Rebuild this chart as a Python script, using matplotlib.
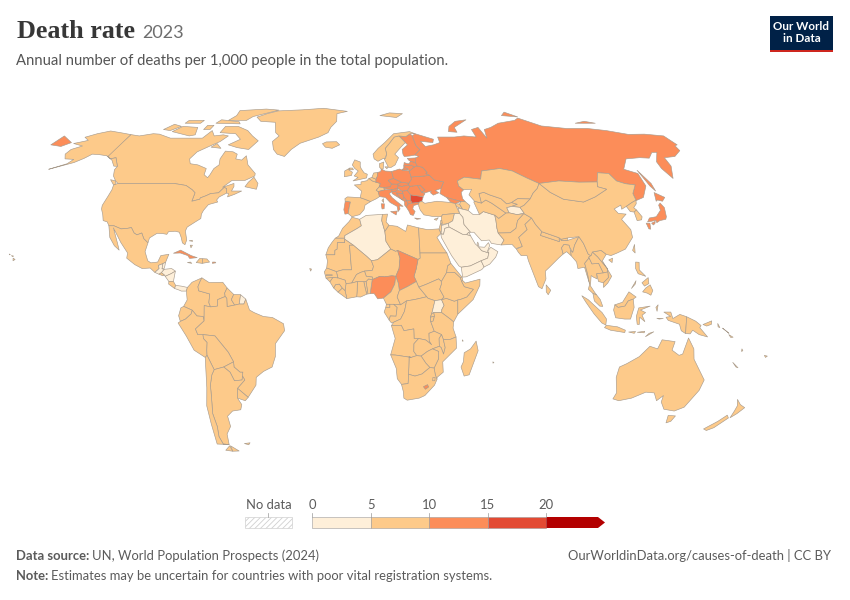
import numpy as np
import matplotlib
matplotlib.use("Agg")
import matplotlib.pyplot as plt
from matplotlib.collections import PolyCollection
from matplotlib.colors import ListedColormap, BoundaryNorm
from matplotlib.patches import Rectangle, Polygon

plt.rcParams['font.family'] = ['Lato', 'DejaVu Sans']
plt.rcParams['hatch.linewidth'] = 0.6

title = "Death rate"
title_year = "2023"
subtitle = "Annual number of deaths per 1,000 people in the total population."
source_text = "UN, World Population Prospects (2024)"
url_text = "OurWorldinData.org/causes-of-death | CC BY"
note_text = "Estimates may be uncertain for countries with poor vital registration systems."

legend_bounds = [0, 5, 10, 15, 20, 25]
legend_colors = ['#feefd9', '#fdca8a', '#fc8d59', '#e34a33', '#b30000']

# deaths per 1,000, estimated from the colour of each country
death_rate = {
    "Canada": 7.8, "USA": 9.2, "Alaska": 9.2, "Greenland": 8.5, "Iceland": 6.5, "Mexico": 6.3,
    "Guatemala": 4.8, "Belize": 4.9, "Honduras": 4.5, "El Salvador": 6.8, "Nicaragua": 4.7,
    "Costa Rica": 5.6, "Panama": 4.9, "Cuba": 11.5, "Haiti": 8.5, "Dominican Rep": 6.6,
    "Jamaica": 8.0, "Puerto Rico": 10.5, "Bahamas": 7.0, "Colombia": 6.2, "Venezuela": 7.0,
    "Guyana": 8.0, "Suriname": 7.5, "French Guiana": 3.5, "Ecuador": 5.4, "Peru": 5.7,
    "Brazil": 7.0, "Bolivia": 6.8, "Paraguay": 6.5, "Uruguay": 9.8, "Argentina": 7.2,
    "Chile": 6.9, "Falklands": 7.0,
    "Portugal": 11.1, "Spain": 9.4, "France": 9.3, "Belgium": 9.5, "Netherlands": 9.6,
    "Germany": 12.0, "Denmark": 9.6, "Switzerland": 8.0, "Austria": 10.2, "Italy": 11.0,
    "Czechia": 10.8, "Slovakia": 10.5, "Poland": 11.0, "Hungary": 13.0, "Slovenia": 10.5,
    "Croatia": 13.6, "Bosnia": 12.5, "Serbia": 14.5, "Montenegro": 11.0, "Albania": 10.5,
    "N Macedonia": 10.5, "Greece": 12.0, "Bulgaria": 15.5, "Romania": 13.0, "Moldova": 12.5,
    "Ukraine": 14.8, "Belarus": 13.0, "Lithuania": 13.5, "Latvia": 14.5, "Estonia": 12.5,
    "Finland": 10.5, "Sweden": 8.9, "Norway": 8.0, "UK": 9.3, "N Ireland": 9.3, "Ireland": 6.7,
    "Russia": 12.8, "Georgia": 12.0, "Armenia": 9.0, "Azerbaijan": 6.0, "Turkey": 6.0, "Cyprus": 7.0,
    "Syria": 5.3, "Lebanon": 5.5, "Israel": 5.2, "Jordan": 3.9, "Iraq": 4.7, "Kuwait": 2.5,
    "Saudi Arabia": 3.5, "Yemen": 4.9, "Oman": 2.6, "UAE": 1.5, "Qatar": 1.2, "Iran": 4.8,
    "Turkmenistan": 7.0, "Uzbekistan": 5.2, "Kazakhstan": 7.0, "Kyrgyzstan": 5.0, "Tajikistan": 4.4,
    "Afghanistan": 6.8, "Pakistan": 6.5, "India": 6.7, "Nepal": 6.2, "Bhutan": 6.5, "Bangladesh": 5.7,
    "Sri Lanka": 7.5, "Myanmar": 8.0, "Thailand": 8.7, "Laos": 6.2, "Vietnam": 6.0, "Cambodia": 5.8,
    "Malaysia": 5.5, "Indonesia": 7.5, "PNG": 6.5, "Philippines": 6.0, "Taiwan": 8.8, "China": 7.8,
    "Mongolia": 6.0, "North Korea": 8.5, "South Korea": 7.0, "Japan": 12.7,
    "Morocco": 6.5, "W Sahara": 5.5, "Algeria": 4.5, "Tunisia": 6.5, "Libya": 5.5, "Egypt": 5.5,
    "Sudan": 7.5, "South Sudan": 9.5, "Mauritania": 6.0, "Mali": 8.5, "Niger": 8.5, "Chad": 13.5,
    "Nigeria": 12.5, "Benin": 9.0, "Togo": 8.0, "Ghana": 7.0, "Burkina Faso": 8.5,
    "Ivory Coast": 8.0, "Liberia": 8.5, "Sierra Leone": 8.5, "Guinea": 9.0, "Guinea-Bissau": 8.5,
    "Senegal": 5.5, "Gambia": 6.5, "Cameroon": 8.0, "CAR": 9.5, "Eq Guinea": 8.5, "Gabon": 6.5,
    "Congo": 6.5, "DR Congo": 8.8, "Uganda": 4.8, "Rwanda": 5.5, "Burundi": 6.5, "Kenya": 6.8,
    "Tanzania": 5.5, "Ethiopia": 6.5, "Eritrea": 6.0, "Djibouti": 7.0, "Somalia": 9.5, "Angola": 6.5,
    "Zambia": 6.0, "Malawi": 5.5, "Mozambique": 7.5, "Zimbabwe": 7.5, "Botswana": 6.0, "Namibia": 7.0,
    "South Africa": 9.0, "Lesotho": 11.5, "Eswatini": 9.0, "Madagascar": 6.0, "Comoros": 6.5,
    "Cape Verde": 6.0, "Mauritius": 9.0, "Fiji": 8.5, "Vanuatu": 6.0, "New Caledonia": 7.0,
    "New Zealand": 7.0, "Australia": 6.5, "Solomon": 6.0,
}

# country outlines as rough (lon, lat) rings
outlines = {
    "Canada": [
        [(-141,69.6),(-135,69),(-128,70),(-124,69.8),(-115,68),(-108,68),(-100,68),(-96,68),(-94,71.5),(-90,69),(-85,69.5),(-81.5,69),(-84,66.5),(-87,65),(-93,62),(-94.5,59),(-92.5,57),(-88,56.5),(-82.5,55),(-82,52.5),(-79.5,51.3),(-79,52.5),(-78.5,55),(-76.8,56.5),(-78,59),(-77.5,62.3),(-73,62),(-70,61),(-69.5,59),(-66,58.5),(-64.5,60.3),(-61.5,56.5),(-56,53),(-55.8,52),(-60,50.2),(-66.5,50.2),(-70,47.5),(-65,49),(-64.5,47.8),(-65,46),(-61,46),(-60,46),(-63,44.7),(-66,43.7),(-66,45),(-67,45.2),(-67.8,47),(-69.2,47.4),(-71,45.3),(-74.7,45),(-76.5,44.2),(-79,43.3),(-79,42.8),(-82.5,42),(-82.5,45.3),(-84.5,46.5),(-88.5,48.2),(-95,49),(-123,49),(-125,50),(-128,52),(-130,54.5),(-130,55.9),(-135,59.5),(-137.5,59),(-141,60.3)],
        [(-80,73.5),(-72,71.5),(-67,69),(-62,66.8),(-65,63),(-72,63.8),(-78,65),(-73,67.5),(-78,70),(-88,70.5),(-88,73.5)],
        [(-90,76.5),(-78,76.5),(-76,78.5),(-62,82.3),(-72,83),(-90,82),(-88,79)],
        [(-118,71),(-105,69),(-102,69.5),(-105,73),(-115,73.5)],
        [(-125,72),(-120,71.5),(-116,73.5),(-122,74.5)],
        [(-96,75),(-80,74.7),(-82,75.8),(-95,76.8)],
        [(-116,75),(-106,75),(-106,76.5),(-116,76.5)],
        [(-87,64),(-81,63.5),(-85,65.6)],
        [(-59,47.7),(-53,46.7),(-53,49),(-56,51.5),(-58,49.5)],
        [(-128,50.5),(-125,48.6),(-123.5,48.4),(-125,50)],
        [(-100,72),(-96,72),(-96,74),(-100,74)],
    ],
    "USA": [[(-123,49),(-95,49),(-88.5,48.2),(-84.5,46.5),(-82.5,45.3),(-82.5,42),(-79,42.8),(-79,43.3),(-76.5,44.2),(-74.7,45),(-71,45.3),(-69.2,47.4),(-67.8,47),(-67,45.2),(-70,43.7),(-70.8,42.5),(-70,41.7),(-74,40.7),(-75.5,38.5),(-76,37),(-75.7,35.3),(-78,33.9),(-81,32),(-81.4,30.5),(-80,27),(-80.4,25.2),(-81.7,25.9),(-82.7,28),(-84,30),(-86,30.4),(-89,30.2),(-89.5,29.2),(-91.5,29.5),(-94,29.6),(-97,27.8),(-97.2,25.9),(-99.5,27.5),(-101,29.7),(-103,29),(-104.5,29.7),(-106.5,31.8),(-108.2,31.5),(-111,31.3),(-114.8,32.5),(-117.1,32.5),(-118.5,34),(-120.6,34.5),(-122,36.8),(-123.8,39),(-124.3,40.4),(-124,44),(-124,46.5),(-124.7,48.4)],
        [(-156,20),(-155,19.5),(-155.8,19)],[(-157,21),(-156,20.8),(-156.5,20.6)],[(-158.2,21.6),(-157.7,21.4),(-158,21.3)]],
    "Alaska": [[(-141,69.6),(-148,70.4),(-156.5,71.3),(-162,70),(-166.5,68.4),(-162,67),(-164,66.5),(-168,65.6),(-161,64.5),(-165,63),(-165,61),(-162,59),(-157,58.8),(-158,57),(-164.5,54.7),(-155,57.5),(-152,59.2),(-150,61),(-146,60.8),(-141,60.3),(-137.5,59),(-135,59.5),(-130,55.9),(-132,56),(-136,58.5),(-140,60)]],
    "Greenland": [[(-73,78.2),(-68,76),(-58,75.5),(-54,70.5),(-51,69),(-53.5,66.5),(-51,63),(-48,61),(-43.5,60),(-41,63),(-37,65.7),(-27,68.5),(-22,70.5),(-21,73),(-18,76),(-19,80),(-12,81.5),(-30,83.5),(-45,82.5),(-62,81.8),(-68,80)]],
    "Iceland": [[(-24,65.5),(-22,64),(-18,63.5),(-14,65),(-16,66.4),(-22,66.3)]],
    "Mexico": [[(-117.1,32.5),(-114.8,32.5),(-111,31.3),(-108.2,31.5),(-106.5,31.8),(-104.5,29.7),(-103,29),(-101,29.7),(-99.5,27.5),(-97.2,25.9),(-97.8,22.5),(-96,19),(-94.5,18.2),(-91.5,18.5),(-90.5,21),(-87,21.5),(-88,18.4),(-89.1,17.9),(-91,17.2),(-90.5,16),(-92.2,14.5),(-94.5,16.2),(-98,16),(-101.5,17.5),(-105.5,20),(-105.5,22),(-109.4,26),(-112.5,29.5),(-114.7,31.7),(-111,26),(-109.5,23.1),(-112,24.8),(-115,28)]],
    "Guatemala": [[(-92.2,14.5),(-90.5,16),(-91,17.2),(-89.1,17.9),(-89.2,15.9),(-88.2,15.7),(-89.3,14.4),(-90.3,13.8)]],
    "Belize": [[(-89.1,17.9),(-88,18.4),(-88.2,16.1),(-89.2,15.9)]],
    "Honduras": [[(-89.3,14.4),(-88.2,15.7),(-85,16),(-83.2,15),(-85,14),(-87.5,13),(-87.8,13.4)]],
    "El Salvador": [[(-90.3,13.8),(-89.3,14.4),(-87.8,13.4),(-88.5,13.2)]],
    "Nicaragua": [[(-87.5,13),(-85,14),(-83.2,15),(-83.7,11),(-85.7,11)]],
    "Costa Rica": [[(-85.7,11),(-83.7,11),(-82.6,9.5),(-83,8.3),(-85.7,10)]],
    "Panama": [[(-83,8.3),(-82.6,9.5),(-80,9.2),(-77.4,8.7),(-77.8,7.3),(-80,7.3),(-81,7.7)]],
    "Cuba": [[(-85,21.9),(-82,23.1),(-77,21),(-74.2,20.2),(-77.5,19.9),(-78.5,21),(-82,22)]],
    "Haiti": [[(-74.4,18.3),(-71.7,18),(-71.7,19.8),(-73,19.9)]],
    "Dominican Rep": [[(-71.7,18),(-68.5,18.5),(-69.8,19.7),(-71.7,19.8)]],
    "Jamaica": [[(-78.3,18.3),(-76.3,18),(-77,18.5)]],
    "Puerto Rico": [[(-67.2,18),(-65.7,18.2),(-66,18.5),(-67.2,18.5)]],
    "Bahamas": [[(-78,25),(-77.5,24),(-77,25)],[(-78.8,26.7),(-77.2,26.5),(-77.5,26.9)]],
    "Colombia": [[(-77.4,8.7),(-75.5,10.7),(-71.3,12.4),(-72,11),(-72.8,9),(-72.4,7.4),(-67.5,6.2),(-67.8,2.8),(-67,1.2),(-69.8,1.7),(-69.9,-4.2),(-70.3,-2.5),(-73,-2.3),(-75,-0.1),(-78.8,1.4),(-77.3,3.9),(-77.8,7.3)]],
    "Venezuela": [[(-71.3,12.4),(-68,10.6),(-62,10.7),(-60,8.5),(-61,6.5),(-60.7,5.2),(-64,4),(-64,1.5),(-67,1.2),(-67.8,2.8),(-67.5,6.2),(-72.4,7.4),(-72.8,9),(-72,11)]],
    "Guyana": [[(-60,8.5),(-57,6),(-58,4),(-56.5,1.9),(-59.8,1.3),(-60,4.5),(-60.7,5.2),(-61,6.5)]],
    "Suriname": [[(-57,6),(-54,5.9),(-54.5,2.3),(-56.5,1.9),(-58,4)]],
    "French Guiana": [[(-54,5.9),(-51.7,4.2),(-52.5,2.3),(-54.5,2.3)]],
    "Ecuador": [[(-78.8,1.4),(-75,-0.1),(-75.5,-1.5),(-78,-3.5),(-80.3,-4.4),(-81,-2.2),(-80,0.8)]],
    "Peru": [[(-75,-0.1),(-73,-2.3),(-70.3,-2.5),(-69.9,-4.2),(-73.8,-7.3),(-72.9,-9.5),(-70.6,-9.5),(-70.5,-11),(-69,-12.5),(-69.4,-15.5),(-69.5,-17.5),(-70.4,-18.3),(-75,-15.5),(-78,-10),(-81.3,-5),(-80.3,-4.4),(-78,-3.5),(-75.5,-1.5)]],
    "Brazil": [[(-51.7,4.2),(-50,0),(-48,-1),(-44,-2.5),(-40,-2.9),(-35.2,-5.3),(-34.8,-8),(-39,-13),(-39.3,-18),(-41,-22),(-45,-23.7),(-48.5,-26),(-49,-29),(-53.4,-33.7),(-57.6,-30.2),(-53.8,-27),(-54.6,-25.5),(-54.3,-24),(-55.5,-24),(-58,-22),(-58,-20),(-60,-16.3),(-65.4,-10),(-70.6,-9.5),(-72.9,-9.5),(-73.8,-7.3),(-69.9,-4.2),(-69.8,1.7),(-67,1.2),(-64,1.5),(-64,4),(-60.7,5.2),(-60,4.5),(-59.8,1.3),(-56.5,1.9),(-54.5,2.3),(-52.5,2.3)]],
    "Bolivia": [[(-70.6,-9.5),(-65.4,-10),(-60,-16.3),(-58,-20),(-62.6,-22),(-67,-23),(-69.5,-17.5),(-69.4,-15.5),(-69,-12.5),(-70.5,-11)]],
    "Paraguay": [[(-58,-20),(-58,-22),(-55.5,-24),(-54.3,-24),(-54.6,-25.5),(-55,-27),(-58.5,-27.3),(-60,-24),(-62.6,-22)]],
    "Uruguay": [[(-57.6,-30.2),(-53.4,-33.7),(-55,-35),(-58.4,-34)]],
    "Argentina": [[(-67,-23),(-62.6,-22),(-60,-24),(-58.5,-27.3),(-55,-27),(-54.6,-25.5),(-53.8,-27),(-57.6,-30.2),(-58.4,-34),(-57,-36.5),(-58,-38.5),(-62,-39),(-65,-41),(-65,-45),(-68,-48),(-69,-52.2),(-71.9,-52),(-72.5,-49),(-71.5,-45),(-71.7,-40),(-70.2,-33),(-69.7,-29),(-68.3,-25)],
        [(-68.6,-52.7),(-65.2,-54.8),(-68.6,-54.9)]],
    "Chile": [[(-69.5,-17.5),(-67,-23),(-68.3,-25),(-69.7,-29),(-70.2,-33),(-71.7,-40),(-71.5,-45),(-72.5,-49),(-71.9,-52),(-69,-52.2),(-75,-52),(-74,-44),(-73.5,-37),(-71.5,-30),(-70.4,-18.3)],
        [(-69,-52.7),(-68.6,-54.9),(-72,-54.5)]],
    "Falklands": [[(-61,-51.8),(-58,-51.5),(-59,-52.3)]],
    "Portugal": [[(-9,41.9),(-8.2,42),(-6.5,41.7),(-7,39.7),(-7.4,37.2),(-8.9,37),(-9.5,38.7)]],
    "Spain": [[(-9.2,43),(-9,41.9),(-8.2,42),(-6.5,41.7),(-7,39.7),(-7.4,37.2),(-5.6,36),(-2,36.8),(0,38.7),(0.5,40.5),(3.2,41.9),(0.7,42.7),(-1.8,43.4),(-8,43.7)]],
    "France": [[(-1.8,43.4),(0.7,42.7),(3.2,41.9),(6,43),(7.5,43.8),(7,45.8),(6,46.3),(7.5,47.6),(8.2,49),(6,49.5),(4.2,50),(2.5,51),(1.5,50.1),(-1.5,49.6),(-1.5,48.6),(-4.8,48.4),(-1.2,46)],
        [(8.6,42.3),(9.4,43),(9.4,41.5)]],
    "Belgium": [[(2.5,51),(4.2,50),(6,49.5),(6.1,50.7),(4,51.4)]],
    "Netherlands": [[(4,51.4),(6.1,50.7),(7,52.2),(7,53.4),(5,53.2)]],
    "Germany": [[(7,53.4),(7,52.2),(6.1,50.7),(6,49.5),(8.2,49),(7.5,47.6),(10,47.4),(13,47.6),(13.8,48.8),(12.2,50.2),(15,51),(14.3,53.8),(11,54),(9,54.8),(8.7,53.8)]],
    "Denmark": [[(9,54.8),(10,54.8),(10.3,56.2),(10.6,57.7),(8.2,57),(8.2,55.5)],[(11,55.7),(12.5,55.7),(12,54.9)]],
    "Switzerland": [[(6,46.3),(7,45.8),(10.4,46.5),(9.6,47.3),(7.5,47.6)]],
    "Austria": [[(9.6,47.3),(10.4,46.9),(13.7,46.5),(16.5,47),(17,48.1),(16.9,48.7),(13.8,48.8),(13,47.6),(10,47.4)]],
    "Italy": [[(7,45.8),(7.5,43.8),(10.3,43.5),(12.5,41.5),(15.7,40),(16,38),(17,39),(16.7,40.2),(18.5,40),(16,41.7),(13.5,43.5),(12.3,45),(13.7,45.7),(13.7,46.5),(10.4,46.5)],
        [(12.5,38),(15.6,38.2),(15,36.7)],[(8.2,41),(9.7,41),(9.5,39.1),(8.5,39)]],
    "Czechia": [[(12.2,50.2),(13.8,48.8),(16.9,48.7),(18.8,49.5),(15,51)]],
    "Slovakia": [[(16.9,48.7),(17,48.1),(18.8,47.8),(22.1,48.4),(22.5,49.1),(18.8,49.5)]],
    "Poland": [[(14.3,53.8),(15,51),(18.8,49.5),(22.5,49.1),(24,50.6),(24,51.6),(23.5,54),(19.8,54.4),(18.5,54.8)]],
    "Hungary": [[(16.5,47),(18.8,45.9),(21.3,46.2),(22.9,47.9),(22.1,48.4),(18.8,47.8),(17,48.1)]],
    "Slovenia": [[(13.7,45.7),(15.6,45.8),(16.5,46.5),(16.5,47),(13.7,46.5)]],
    "Croatia": [[(13.7,45.7),(15.6,45.8),(16.5,46.5),(18.8,45.9),(19,44.9),(15.8,45.2),(17.6,43.1),(18.5,42.5),(15.2,44.2),(13.7,45)]],
    "Bosnia": [[(15.8,45.2),(19,44.9),(19.3,43.5),(18.5,42.5),(17.6,43.1)]],
    "Serbia": [[(19,44.9),(18.8,45.9),(21.3,46.2),(22.7,44.5),(22.4,42.3),(20.5,42.3),(19.3,43.5)]],
    "Montenegro": [[(18.5,42.5),(19.3,43.5),(20.5,42.3),(19.4,41.9)]],
    "Albania": [[(19.4,41.9),(20.5,42.3),(21,40.6),(20,39.7),(19.3,40.5)]],
    "N Macedonia": [[(20.5,42.3),(22.4,42.3),(23,41.3),(21,40.9)]],
    "Greece": [[(20,39.7),(21,40.9),(23,41.3),(26.3,41.6),(26,40.9),(23.5,40.3),(23,39),(24,38),(23,36.5),(21.7,36.8),(21,38.3)],[(23.5,35.5),(26.3,35.2),(24.5,35)]],
    "Bulgaria": [[(22.4,42.3),(22.7,44.5),(27,44),(28.6,43.6),(27.7,42),(26.3,41.6),(23,41.3)]],
    "Romania": [[(21.3,46.2),(22.9,47.9),(26.6,48.2),(28.2,45.5),(29.7,45),(28.6,43.8),(27,44),(22.7,44.5)]],
    "Moldova": [[(26.6,48.2),(28,48.3),(30,46.4),(28.2,45.5)]],
    "Ukraine": [[(22.1,48.4),(22.9,47.9),(26.6,48.2),(28,48.3),(30,46.4),(28.2,45.5),(29.7,45.3),(33,46),(32.5,45.3),(33.7,44.4),(36.5,45.3),(35,46.2),(38,47),(40,49.6),(35.5,50.4),(33.5,52.3),(30.8,52),(24,51.6),(24,50.6),(22.5,49.1)]],
    "Belarus": [[(24,51.6),(30.8,52),(33.5,52.3),(31.8,53),(32.7,53.4),(30.8,55.5),(28,56.1),(26.5,55.7),(23.5,54)]],
    "Lithuania": [[(20.9,55.3),(22.7,55),(23.5,54),(26.5,55.7),(25,56.4),(21,56.1)]],
    "Latvia": [[(21,56.1),(25,56.4),(26.5,55.7),(28,56.1),(27.5,57.5),(25,58),(24,57),(23,57),(21.5,57.5)]],
    "Estonia": [[(23.5,59.2),(28,59.4),(27.5,57.5),(25,58),(24.3,58.3)]],
    "Finland": [[(22,60),(25,60.2),(28,60.6),(31.5,62.9),(29.7,64.8),(29,69),(28,70),(25,68.7),(21,69),(24,66),(25,65),(21.5,63),(21.5,61)]],
    "Sweden": [[(11,58.9),(12.9,55.4),(14.3,55.5),(16.5,56.5),(18.8,59.5),(17,61),(21,64),(24,66),(21,69),(18,68.5),(14.5,65.5),(12,63.5),(12.5,61),(11.7,59.2)]],
    "Norway": [[(5,61),(5.5,59),(7.5,58),(10.5,59.2),(11.2,59),(12.5,61),(12,63.5),(14.5,65.5),(18,68.5),(21,69),(25,68.7),(28,70),(31,70),(28,71),(18,70),(12,66),(8,63.5)],
        [(11,79),(22,78),(27,80),(18,80.5)]],
    "UK": [[(-5.5,50),(1.3,51.2),(1.7,52.7),(0,53.3),(-1.5,55),(-2,56),(-2,57.7),(-5,58.6),(-6.2,56.5),(-4.8,55),(-3,54),(-5,52),(-3,51.4)]],
    "N Ireland": [[(-8,54.5),(-5.5,54.5),(-6,55.2),(-7.4,55.2)]],
    "Ireland": [[(-8,54.5),(-7.4,55.2),(-10,54),(-10,51.7),(-6.4,52.2),(-6,53.5)]],
    "Russia": [
        [(31,70),(41,67.5),(40,66),(33,66.6),(35,64.3),(40,65),(44,66),(44,68.5),(54,68.5),(60,69),(67,68.5),(67,72),(72,73),(73,68),(75,72),(80,73),(87,75),(100,76.5),(104,77.7),(113,73.7),(127,72.5),(140,72.5),(150,71.5),(160,69.7),(170,69.8),(180,69),(180,65),(178,64.6),(177,62.5),(170,60),(163.5,59.5),(162,56),(158.5,52.8),(156.7,51),(155.6,55),(156.8,57.8),(163,61.8),(160,61.7),(155,59.3),(150,59.5),(142,59),(135.5,54.7),(141,53),(140,48),(135,43.5),(130.7,42.3),(131,45),(135,48.4),(130.5,48.9),(127,50),(126,53),(120.5,53.3),(117,49.6),(108,49.5),(98,50),(87.5,49),(83,51),(77,54),(71,55),(61,54),(59,50.7),(51,51.5),(47,50),(47,48),(49,46.5),(47.5,45.5),(47.5,43),(48.5,41.8),(46.5,41.9),(40,43.4),(37,45),(38,47),(40,49.6),(35.5,50.4),(33.5,52.3),(31.8,53),(32.7,53.4),(30.8,55.5),(28,56.1),(27.5,57.5),(28,59.4),(30,60),(28,60.6),(31.5,62.9),(29.7,64.8),(29,69)],
        [(-180,69),(-170,66),(-173,64.3),(-180,65)],
        [(142,54.3),(143.5,49),(143,46),(142,48)],
        [(52,71),(57,70.7),(57,73),(68,76.8),(60,76),(54,73.5)],
        [(95,79),(105,78.3),(100,81)],
        [(137,75),(150,75),(145,76)],
        [(19.8,54.4),(22.8,54.4),(22.7,55),(20.9,55.3)],
    ],
    "Georgia": [[(40,43.4),(46.5,41.9),(43.5,41.1),(41.5,41.5)]],
    "Armenia": [[(43.5,41.1),(45.5,40.9),(46.5,38.9),(43.7,40)]],
    "Azerbaijan": [[(46.5,41.9),(48.5,41.8),(50.3,40.3),(49,38.4),(46.5,38.9),(45.5,40.9)]],
    "Turkey": [[(26,40.9),(26.3,41.6),(27.7,42),(29,41.2),(35,42),(41.5,41.5),(43.5,41.1),(43.7,40),(44.8,37.2),(42.3,37.2),(36.7,36.8),(36,36),(32,36.1),(28,36.7),(26.5,38.5),(26,40)]],
    "Cyprus": [[(32.5,35),(34.5,35.6),(33.5,34.6)]],
    "Syria": [[(36,36),(36.7,36.8),(42.3,37.2),(41,34.4),(38.8,33.4),(36,33),(35.8,35)]],
    "Lebanon": [[(35.2,33.1),(36,33.6),(36,34.6),(35.5,34.6)]],
    "Israel": [[(34.3,31.3),(35,29.5),(35.5,31.5),(35.7,33.2),(35.1,33.1)]],
    "Jordan": [[(35,29.5),(36.1,29.2),(37,31.5),(39,32),(38.8,33.4),(36,32.7),(35.6,32.7),(35.5,31.5)]],
    "Iraq": [[(38.8,33.4),(41,34.4),(42.3,37.2),(44.8,37.2),(46,35.8),(46,33),(48.5,30),(47.7,30),(46.5,29.1),(44.7,29.2),(39,32)]],
    "Kuwait": [[(46.5,29.1),(47.7,30),(48.3,28.6)]],
    "Saudi Arabia": [[(36.1,29.2),(34.9,29.3),(35,28),(39,21),(42,17),(43,16.5),(47,17),(52,19),(55,20),(55.7,22),(52.6,22.9),(51.3,24.4),(50,25.5),(48.3,28.6),(46.5,29.1),(44.7,29.2),(39,32),(37,31.5)]],
    "Yemen": [[(43,16.5),(43.4,12.7),(45,12.8),(52,15.6),(53.1,16.6),(52,19),(47,17)]],
    "Oman": [[(53.1,16.6),(55.7,17.7),(58.6,20.4),(59.8,22.5),(56.8,24.2),(55.2,22.7),(55.7,22),(55,20),(52,19)]],
    "UAE": [[(51.3,24.4),(52.6,22.9),(55.7,22),(55.2,22.7),(56.4,24.9),(56,26),(54,24.2)]],
    "Qatar": [[(51,24.7),(51.6,25),(51.2,26.2),(50.8,25.5)]],
    "Iran": [[(44.8,37.2),(44.4,39.4),(46.5,38.9),(49,38.4),(51,36.8),(54,36.9),(56,38),(61,36.6),(61,34.5),(60.8,31.5),(61,29.7),(63.2,27),(61.6,25.1),(57.3,25.7),(56.5,27),(53,26.7),(50,30),(48.5,30),(46,33),(46,35.8)]],
    "Turkmenistan": [[(53,42),(52.5,41.7),(53.8,37.3),(54,36.9),(56,38),(61,36.6),(62.5,35.3),(66.5,37.4),(61,41.2),(58.5,42.5),(56,41.3)]],
    "Uzbekistan": [[(56,45),(56,41.3),(58.5,42.5),(61,41.2),(66.5,37.4),(68,37.5),(67.5,39.5),(70,40),(73,40.8),(70.5,41.5),(68,41),(66,43),(61,44.5),(58.5,45.5)]],
    "Kazakhstan": [[(47,50),(51,51.5),(59,50.7),(61,54),(71,55),(77,54),(83,51),(87.5,49),(85.5,47),(82.5,45.2),(80,42.9),(74,43),(70.5,41.5),(68,41),(66,43),(61,44.5),(58.5,45.5),(56,45),(56,41.3),(53,42),(51,44.5),(53,46.7),(49,46.5),(47,48)]],
    "Kyrgyzstan": [[(70.5,41.5),(74,43),(80,42.9),(76,40.4),(73.8,39.6),(70,40),(73,40.8)]],
    "Tajikistan": [[(67.5,39.5),(70,40),(73.8,39.6),(75,37.4),(71.5,36.8),(68,37.5)]],
    "Afghanistan": [[(61,34.5),(61,36.6),(62.5,35.3),(66.5,37.4),(68,37.5),(71.5,36.8),(74.8,37.2),(71,34.5),(69.5,31.5),(66.5,29.8),(61,29.7),(60.8,31.5)]],
    "Pakistan": [[(61.6,25.1),(63.2,27),(61,29.7),(66.5,29.8),(69.5,31.5),(71,34.5),(74.8,37.2),(77.8,35.5),(74,33),(74.5,31),(70,28),(71,24.5),(68,23.7),(66.5,25.3)]],
    "India": [[(68.2,23.5),(71,24.5),(70,28),(74.5,31),(74,33),(77.8,35.5),(78.9,33),(81,30.2),(80,28.8),(88,26.4),(88.2,27.9),(89,26.8),(92,26.9),(97.3,28.3),(94.5,25),(93.2,22.2),(92,24.5),(92,25),(89.8,25.3),(88.5,24),(88.8,21.6),(86.5,20),(82,16.5),(80,15),(80,12),(78,8.2),(76.5,9),(73,19),(72.6,21),(70,21),(68.9,22.3)]],
    "Nepal": [[(80,28.8),(81,30.2),(88.2,27.9),(88,26.4)]],
    "Bhutan": [[(89,27.3),(92,27.8),(92,26.9),(89,26.8)]],
    "Bangladesh": [[(88.5,24),(89.8,25.3),(92,25),(92.4,23),(92.3,20.9),(90.5,22.5),(88.8,21.6)]],
    "Sri Lanka": [[(79.9,9.7),(81.8,7.6),(80.6,5.9),(79.8,7)]],
    "Myanmar": [[(92.3,20.9),(92.4,23),(93.2,22.2),(94.5,25),(97.3,28.3),(98.7,25.7),(100,21.5),(101.1,21),(97.8,18),(98.5,14),(99,10),(98.5,12),(97.5,16.5),(94.5,16),(94.3,18.5)]],
    "Thailand": [[(100,20.4),(101,17.8),(104,18),(105.5,14.3),(102.5,14),(102.5,12),(100.9,12.7),(100,13.3),(99.3,9.3),(101,6.8),(101.8,5.8),(100.2,6.4),(98.3,8),(99,10),(98.5,14),(97.8,18),(101.1,21)]],
    "Laos": [[(101.1,21),(102,22.4),(104,20.5),(107.5,16),(107.5,14.7),(105.5,14.3),(104,18),(101,17.8),(100,20.4)]],
    "Vietnam": [[(102,22.4),(106,23),(108,21.5),(105.8,19),(109,13),(107,10.4),(105,8.7),(105,10.5),(107.5,12.5),(107.5,14.7),(107.5,16),(104,20.5)]],
    "Cambodia": [[(102.5,14),(105.5,14.3),(107.5,14.7),(107.5,12.5),(105,10.5),(103,11)]],
    "Malaysia": [[(100.2,6.4),(101.8,5.8),(103.3,4),(104.3,1.4),(103,1.5),(100.7,3.5)],
        [(109.6,2),(113,3),(116,7),(119,5),(117.7,4.2),(115.5,3.5),(114,1.5),(111,1)]],
    "Indonesia": [
        [(109.6,2),(111,1),(114,1.5),(115.5,3.5),(117.7,4.2),(118,1),(116.5,-3.5),(114,-3.5),(110,-3),(109,0)],
        [(95.3,5.5),(98,4),(104,-1),(106,-3.5),(105.8,-5.8),(104,-5),(100.5,-1.5),(97,3)],
        [(105.3,-6.8),(106,-5.9),(111,-6.5),(114.5,-7.8),(114.3,-8.7),(108,-7.8)],
        [(119.5,-5.5),(119,-2.5),(120,0.8),(125,1.5),(120.7,0),(123,-1),(121.5,-2),(122.8,-4.5),(120.5,-2.8),(120.4,-5.6)],
        [(123.5,-10.3),(125,-9),(127,-8.4),(125,-9.5)],
        [(119.8,-8.6),(123,-8.2),(122.8,-8.8)],
        [(116,-8.5),(119,-8.3),(118.5,-9)],
        [(127.5,1),(128.5,2),(128,-0.5)],
        [(128,-3.2),(130.8,-3.3),(129,-3.5)],
        [(131,-0.8),(134,-0.8),(135,-3.3),(138,-1.7),(141,-2.6),(141,-9.1),(139,-8),(138,-5.5),(133,-4),(132,-2.8),(134,-2.5)],
    ],
    "PNG": [[(141,-2.6),(145,-4.3),(147.5,-6),(147,-6.8),(150.8,-10.4),(147,-9.5),(144,-7.8),(143,-9.2),(141,-9.1)],
        [(148.3,-5.6),(152,-4.2),(152,-5.5),(150,-6.2)],[(154.7,-5.2),(155.8,-6.8),(155,-6.5)]],
    "Solomon": [[(157,-7),(160,-9),(159,-8.3)],[(160,-9.5),(162,-10.5),(161,-10.6)]],
    "Philippines": [[(120.5,18.5),(122,18.4),(121.5,15.5),(124,13),(120.8,14),(120,16)],
        [(122,7),(123.5,8.5),(125.5,9.7),(126.5,7.5),(125.5,5.7),(124,6.5)],
        [(122,10.5),(125,12.5),(125,10.2),(123,9.2)],[(117.2,8.3),(119.5,11.3),(119,10)]],
    "Taiwan": [[(120.1,23),(121.5,25.3),(121,22)]],
    "China": [[(73.8,39.6),(76,40.4),(80,42.9),(82.5,45.2),(85.5,47),(87.5,49),(91,45.5),(96,42.8),(105,41.7),(111.8,43.7),(119.5,46.7),(115.7,47.7),(117,49.6),(120.5,53.3),(126,53),(127,50),(130.5,48.9),(135,48.4),(131,45),(130.6,42.4),(128,41.5),(124.3,40),(121.5,38.9),(122,40.5),(118,39),(119,37.3),(122.5,37),(119.3,35),(121.8,31),(121.5,28),(117,23.5),(113,22),(110,21),(108,21.5),(106,23),(102,22.4),(101.1,21),(100,21.5),(98.7,25.7),(97.3,28.3),(92,27.8),(89,27.3),(88.2,27.9),(81,30.2),(78.9,33),(77.8,35.5),(74.8,37.2),(75,37.4)],
        [(108.7,19.3),(110.5,20),(110,18.3)]],
    "Mongolia": [[(87.5,49),(91,45.5),(96,42.8),(105,41.7),(111.8,43.7),(119.5,46.7),(115.7,47.7),(117,49.6),(108,49.5),(98,50)]],
    "North Korea": [[(124.3,40),(128,41.5),(130.6,42.4),(129.7,41),(127.5,39.5),(128.3,38.6),(126.7,37.8),(125,38)]],
    "South Korea": [[(126.7,37.8),(128.3,38.6),(129.4,36),(128.5,34.8),(126.3,34.5)]],
    "Japan": [[(130.9,34),(132.5,35.5),(136,36),(139.5,38.5),(140,40.5),(141.3,41.3),(142,39.5),(140.7,36),(139.8,35),(136.8,34.5),(135,33.7),(135,34.6),(132.5,34.2)],
        [(140,42),(141.7,45.4),(145.3,43.5),(143,42),(141,42.5)],
        [(130,33.5),(131.7,33.5),(131,31.2),(130.2,31.3)],[(132.5,33.5),(134.5,34.2),(134,33.4),(133,32.8)]],
    "Morocco": [[(-5.6,35.8),(-2,35),(-1.2,32.5),(-3,31.5),(-8.7,28.7),(-8.7,27.7),(-13,27.7),(-11.5,28.5),(-9.8,31.5),(-6.8,34.2)]],
    "W Sahara": [[(-13,27.7),(-8.7,27.7),(-8.7,26),(-12,26),(-12,23.5),(-13,23),(-13,21.3),(-17,21.3),(-16,24),(-14.5,26)]],
    "Algeria": [[(-2,35),(1,36.5),(8.6,36.9),(8.2,34.5),(9.5,30.3),(9.9,26.5),(12,23.5),(6,19.4),(3.3,19),(1.2,20.7),(-4.8,25),(-8.7,27.3),(-8.7,28.7),(-3,31.5),(-1.2,32.5)]],
    "Tunisia": [[(8.6,36.9),(11,37),(10.2,34),(11.5,32.7),(9.5,30.3),(8.2,34.5)]],
    "Libya": [[(9.5,30.3),(11.5,32.7),(15.2,32.3),(19,30.3),(20,32.8),(25,31.7),(25,20),(24,19.5),(15,23),(14.2,22.6),(12,23.5),(9.9,26.5)]],
    "Egypt": [[(25,31.7),(29,31),(34.2,31.3),(34.9,29.5),(33,28),(35.5,24),(37,22),(25,22)]],
    "Sudan": [[(25,22),(37,22),(38.5,18),(37,17),(36.4,14.4),(34,11),(32.8,12),(27,9.8),(24,8.8),(23,11),(22,13),(23,15.7),(24,19.5),(25,20)]],
    "South Sudan": [[(24,8.8),(27,9.8),(32.8,12),(34,11),(34,10),(33.2,8),(35,5),(33.9,4),(31,3.6),(28,4.5),(27.4,5.1)]],
    "Mauritania": [[(-17,21.3),(-13,21.3),(-13,23),(-12,23.5),(-12,26),(-8.7,26),(-8.7,27.3),(-4.8,25),(-6.5,25),(-5.5,15.5),(-9.4,15.5),(-12.2,14.8),(-16.5,16.2),(-16.2,19)]],
    "Mali": [[(-4.8,25),(1.2,20.7),(3.3,19),(4.2,16.8),(3.7,15.3),(0.2,15),(-1.5,14.5),(-3.3,13.7),(-5.4,10.4),(-7.9,10.2),(-8.3,11.5),(-11.5,12.4),(-12.2,14.8),(-9.4,15.5),(-5.5,15.5),(-6.5,25)]],
    "Niger": [[(4.2,16.8),(3.3,19),(6,19.4),(12,23.5),(14.2,22.6),(15,23),(16,20),(15.5,16),(14,13),(12.3,13.2),(9,12.8),(7,13),(3.6,11.7),(3.7,12.7),(1,13),(0.2,15),(3.7,15.3)]],
    "Chad": [[(15,23),(24,19.5),(23,15.7),(22,13),(23,11),(19,9),(15.5,7.5),(15,10.5),(14,13),(15.5,16),(16,20)]],
    "Nigeria": [[(2.7,6.3),(3.6,11.7),(7,13),(9,12.8),(12.3,13.2),(14,13),(13.5,10),(11.8,7),(8.5,4.6),(6,4.3),(4.5,6.3)]],
    "Benin": [[(1.7,6.2),(0.9,11),(2,12),(3.6,11.7),(2.7,6.3)]],
    "Togo": [[(1.2,6.1),(1.7,6.2),(0.9,11),(-0.1,11),(0.5,8.5)]],
    "Ghana": [[(-3.2,5.1),(-1.5,5),(1.2,6.1),(0.5,8.5),(-0.1,11),(-2.9,11),(-3,7.5)]],
    "Burkina Faso": [[(-5.4,10.4),(-3.3,13.7),(-1.5,14.5),(0.2,15),(1,13),(3.7,12.7),(3.6,11.7),(2,12),(0.9,11),(-0.1,11),(-2.9,11)]],
    "Ivory Coast": [[(-7.5,4.4),(-3.2,5.1),(-3,7.5),(-2.9,11),(-5.4,10.4),(-7.9,10.2),(-8.3,7.5)]],
    "Liberia": [[(-11.4,6.9),(-7.5,4.4),(-8.3,7.5),(-9.5,8.5)]],
    "Sierra Leone": [[(-13.3,8.5),(-11.4,6.9),(-9.5,8.5),(-10.8,10),(-12.5,9.8)]],
    "Guinea": [[(-15,10.9),(-13.3,8.5),(-12.5,9.8),(-10.8,10),(-9.5,8.5),(-8.3,7.5),(-7.9,10.2),(-8.3,11.5),(-11.5,12.4),(-13.7,12.6)]],
    "Guinea-Bissau": [[(-16.7,12.3),(-15,10.9),(-13.7,12.6)]],
    "Senegal": [[(-17.5,14.7),(-16.5,16.2),(-12.2,14.8),(-11.5,12.4),(-13.7,12.6),(-16.7,12.3)]],
    "Gambia": [[(-16.8,13.3),(-14,13.3),(-14,13.6),(-16.6,13.6)]],
    "Cameroon": [[(8.5,4.6),(11.8,7),(13.5,10),(14,13),(15,10.5),(15.5,7.5),(14.5,5),(16,2),(13,2.2),(9.8,2.2)]],
    "CAR": [[(15.5,7.5),(19,9),(23,11),(24,8.8),(27.4,5.1),(22.5,4.1),(18.6,3.5),(16,2),(14.5,5)]],
    "Eq Guinea": [[(9.8,2.2),(11.3,2.2),(11.3,1),(9.5,1)]],
    "Gabon": [[(9.5,1),(11.3,1),(11.3,2.2),(13,2.2),(14.5,1),(14,-2.4),(11.5,-2.3),(11,-3.9),(8.8,-0.8)]],
    "Congo": [[(11,-3.9),(11.5,-2.3),(14,-2.4),(14.5,1),(13,2.2),(16,2),(18.6,3.5),(17.7,-0.5),(16,-3.5),(13,-4.7),(12,-5)]],
    "DR Congo": [[(12,-6),(13,-4.7),(16,-3.5),(17.7,-0.5),(18.6,3.5),(22.5,4.1),(27.4,5.1),(28,4.5),(31,3.6),(30,0),(29.6,-1.4),(29,-2.8),(29.2,-4.5),(30.8,-8.2),(28.5,-9),(28.7,-12),(29.8,-13.4),(27.2,-11.6),(24,-11),(22,-11),(21.8,-7.3),(17.5,-8),(16.3,-5.9)]],
    "Uganda": [[(30,0),(31,3.6),(33.9,4),(35,1.8),(34,0.2),(33.9,-1),(30.5,-1),(29.6,-1.4)]],
    "Rwanda": [[(29.6,-1.4),(30.5,-1),(30.8,-2.4),(29,-2.8)]],
    "Burundi": [[(29,-2.8),(30.8,-2.4),(30.2,-4.3),(29.2,-4.5)]],
    "Kenya": [[(33.9,-1),(34,0.2),(35,1.8),(33.9,4),(36,4.5),(39.5,3.4),(41,3.9),(41,-1.6),(39.2,-4.6),(37.7,-3.5)]],
    "Tanzania": [[(30.5,-1),(33.9,-1),(37.7,-3.5),(39.2,-4.6),(39,-7),(40.4,-10.4),(38,-11.3),(34.9,-11.5),(34,-9.5),(30.8,-8.2),(29.2,-4.5),(30.2,-4.3),(30.8,-2.4)]],
    "Ethiopia": [[(34,10),(34,11),(36.4,14.4),(40,14.5),(42.4,12.5),(42.9,11),(44,9),(48,8),(45,5),(42,4),(41,3.9),(39.5,3.4),(36,4.5),(33.9,4),(35,5),(33.2,8)]],
    "Eritrea": [[(36.4,14.4),(37,17),(38.5,18),(43.1,12.7),(42.4,12.5),(40,14.5)]],
    "Djibouti": [[(42.4,12.5),(43.3,12.5),(43.3,11.4),(42.9,11)]],
    "Somalia": [[(42.9,11),(43.3,11.4),(44.5,10.4),(51,11.9),(50.8,9.5),(47.7,4),(41,-1.6),(41,3.9),(42,4),(45,5),(48,8),(44,9)]],
    "Angola": [[(12,-6),(16.3,-5.9),(17.5,-8),(21.8,-7.3),(22,-11),(24,-11),(22,-13),(22,-16),(23.4,-17.6),(20.9,-18.3),(14,-17.4),(11.8,-17.3),(13.7,-11),(13,-9)]],
    "Zambia": [[(24,-11),(27.2,-11.6),(29.8,-13.4),(28.7,-12),(28.5,-9),(30.8,-8.2),(34,-9.5),(33,-11),(33.2,-14),(30.2,-15),(28,-16),(25.3,-17.8),(23.4,-17.6),(22,-16),(22,-13)]],
    "Malawi": [[(33,-11),(34,-9.5),(34.9,-11.5),(35.8,-14.5),(35.2,-17),(34,-14.5),(33.2,-14)]],
    "Mozambique": [[(34.9,-11.5),(38,-11.3),(40.4,-10.4),(40.8,-14.7),(35,-20),(35.5,-24),(32.9,-26),(32.9,-26.8),(32,-25),(31.3,-22.4),(33,-19),(33,-16),(30.2,-15),(33.2,-14),(34,-14.5),(35.2,-17),(35.8,-14.5)]],
    "Zimbabwe": [[(25.3,-17.8),(28,-16),(30.2,-15),(33,-16),(33,-19),(31.3,-22.4),(29.4,-22.2),(27.5,-20.5)]],
    "Botswana": [[(20,-18),(20.9,-18.3),(23.4,-17.6),(25.3,-17.8),(27.5,-20.5),(29.4,-22.2),(26,-24.7),(22.9,-25.5),(20,-24.8),(20,-22)]],
    "Namibia": [[(11.8,-17.3),(14,-17.4),(20.9,-18.3),(20,-18),(20,-22),(20,-28.4),(17,-28.7),(15,-26.5),(14.4,-22.5)]],
    "South Africa": [[(17,-28.7),(20,-28.4),(20,-24.8),(22.9,-25.5),(26,-24.7),(29.4,-22.2),(31.3,-22.4),(32,-25),(32.9,-26.8),(32,-29),(28,-33),(25.5,-34),(20,-34.8),(18.4,-34),(18,-31.5)]],
    "Lesotho": [[(27,-29.6),(28.8,-28.8),(29.4,-29.7),(28,-30.6)]],
    "Eswatini": [[(31,-26),(32,-26),(32,-27.3),(31,-27.3)]],
    "Madagascar": [[(49.3,-12),(50.4,-15.7),(47.2,-25),(45,-25.5),(43.3,-22),(44.2,-20),(44.3,-16.5),(47,-15)]],
    "Comoros": [[(43.3,-11.5),(43.6,-12),(43.2,-12)]],
    "Cape Verde": [[(-24,16),(-23.2,15.8),(-23.5,15)]],
    "Mauritius": [[(57.3,-20),(57.8,-20.3),(57.4,-20.5)]],
    "Fiji": [[(177.3,-17.5),(178.7,-17.8),(178,-18.3)]],
    "Vanuatu": [[(166.7,-15),(167.3,-15.7),(166.8,-16)]],
    "New Caledonia": [[(164,-20.2),(167,-22.3),(166,-22)]],
    "New Zealand": [[(172.7,-34.5),(175.5,-36.5),(178.5,-37.7),(176.7,-40),(175,-41.6),(174.7,-39),(174.5,-37)],
        [(172.7,-40.6),(174.3,-41.7),(171,-45.5),(168.5,-46.6),(166.5,-46),(170.5,-43)]],
    "Australia": [[(114,-22),(113.5,-26),(115.7,-32),(115,-34.3),(118,-35),(123.5,-34),(129,-31.7),(133,-32),(135.5,-35),(137.7,-33),(138,-35.5),(141,-38.3),(144,-38.7),(146.3,-39),(150,-37.5),(153,-31),(153.5,-27),(146.5,-19),(145.5,-15),(142.5,-10.8),(141,-17),(139.5,-17.5),(136,-15.5),(136.8,-12.2),(131,-11.5),(129.5,-15),(126,-14),(122,-18),(117,-20.7)],
        [(144.7,-40.7),(148.3,-40.9),(147.8,-43),(146,-43.6)]],
}

# robinson projection table, every 5 degrees
rob_lat = np.arange(0, 95, 5)
rob_plen = [1, .9986, .9954, .99, .9822, .973, .96, .9427, .9216, .8962, .8679, .835, .7986, .7597, .7186, .6732, .6213, .5722, .5322]
rob_pdfe = [0, .062, .124, .186, .248, .31, .372, .434, .4958, .5571, .6176, .6769, .7346, .7903, .8435, .8936, .9394, .9761, 1]


def project(ring):
    lon, lat = np.array(ring, dtype=float).T
    x = np.interp(np.abs(lat), rob_lat, rob_plen) * lon
    y = np.sign(lat) * np.interp(np.abs(lat), rob_lat, rob_pdfe)
    return np.column_stack([x, y])


fig = plt.figure(figsize=(8.5, 6), dpi=100)
# whole figure in pixels, top left origin
ax = fig.add_axes([0, 0, 1, 1])
ax.set_xlim(0, 850)
ax.set_ylim(600, 0)
ax.axis('off')

# map axes placed so the projection lands where the reference has it
px_deg, px_pdfe = 2.29, 209
lon0_px, eq_px = 364, 310
map_ax = fig.add_axes([0, 0, 1, 1], facecolor='none')
map_ax.set_xlim(-lon0_px / px_deg, (850 - lon0_px) / px_deg)
map_ax.set_ylim((eq_px - 600) / px_pdfe, eq_px / px_pdfe)
map_ax.axis('off')

cmap = ListedColormap(legend_colors)
norm = BoundaryNorm(legend_bounds, cmap.N)

rings = []
values = []
for name, parts in outlines.items():
    for part in parts:
        rings.append(project(part))
        values.append(death_rate[name])

countries = PolyCollection(rings, array=np.array(values), cmap=cmap, norm=norm,
                           edgecolors='#a89c8e', linewidths=0.45)
map_ax.add_collection(countries)

# header
ax.text(17, 32, title, family=['Liberation Serif', 'DejaVu Serif'], weight='bold',
        fontsize=18.8, color='#373737', va='center')
ax.text(142, 33.5, title_year, fontsize=13, color='#6e6e6e', va='center')
ax.text(16, 61, subtitle, fontsize=10.75, color='#555555', va='center')

# logo
ax.add_patch(Rectangle((770, 16), 63, 36, facecolor='#002147', edgecolor='none'))
ax.add_patch(Rectangle((770, 49.5), 63, 2.5, facecolor='#ce261e', edgecolor='none'))
ax.text(801.5, 26.5, "Our World", color='white', weight='bold', fontsize=8.4, ha='center', va='center')
ax.text(801.5, 38.5, "in Data", color='white', weight='bold', fontsize=8.4, ha='center', va='center')

# legend
leg_x0, leg_scale = 312, 11.72
leg_top, leg_bottom = 517, 528
ax.add_patch(Rectangle((245, leg_top), 47, leg_bottom - leg_top, facecolor='white',
                       edgecolor='#d0d0d0', hatch='//////', linewidth=0.5))
ax.text(268.5, 505, "No data", fontsize=9.4, color='#5b5b5b', ha='center', va='center')
ax.plot([268.5, 268.5], [513, leg_top], color='#999999', lw=0.5)
for i, col in enumerate(legend_colors):
    left = leg_x0 + legend_bounds[i] * leg_scale
    right = leg_x0 + legend_bounds[i + 1] * leg_scale
    if i < len(legend_colors) - 1:
        ax.add_patch(Rectangle((left, leg_top), right - left, leg_bottom - leg_top,
                               facecolor=col, edgecolor='#9c9c9c', linewidth=0.4))
    else:
        ax.add_patch(Polygon([(left, leg_top), (right - 7, leg_top), (right, (leg_top + leg_bottom) / 2),
                              (right - 7, leg_bottom), (left, leg_bottom)], facecolor=col, edgecolor='none'))
    ax.text(left, 505, str(legend_bounds[i]), fontsize=9.4, color='#5b5b5b', ha='center', va='center')
    ax.plot([left, left], [513, leg_top], color='#999999', lw=0.5)

# footer
ax.text(16, 556, "Data source:", fontsize=9.35, weight='bold', color='#5b5b5b', va='center')
ax.text(92, 556, source_text, fontsize=9.35, color='#5b5b5b', va='center')
ax.text(831, 556, url_text, fontsize=9.35, color='#5b5b5b', ha='right', va='center')
ax.text(16, 576, "Note:", fontsize=9.35, weight='bold', color='#5b5b5b', va='center')
ax.text(51, 576, note_text, fontsize=9.35, color='#5b5b5b', va='center')

plt.savefig("out.png", dpi=100)
